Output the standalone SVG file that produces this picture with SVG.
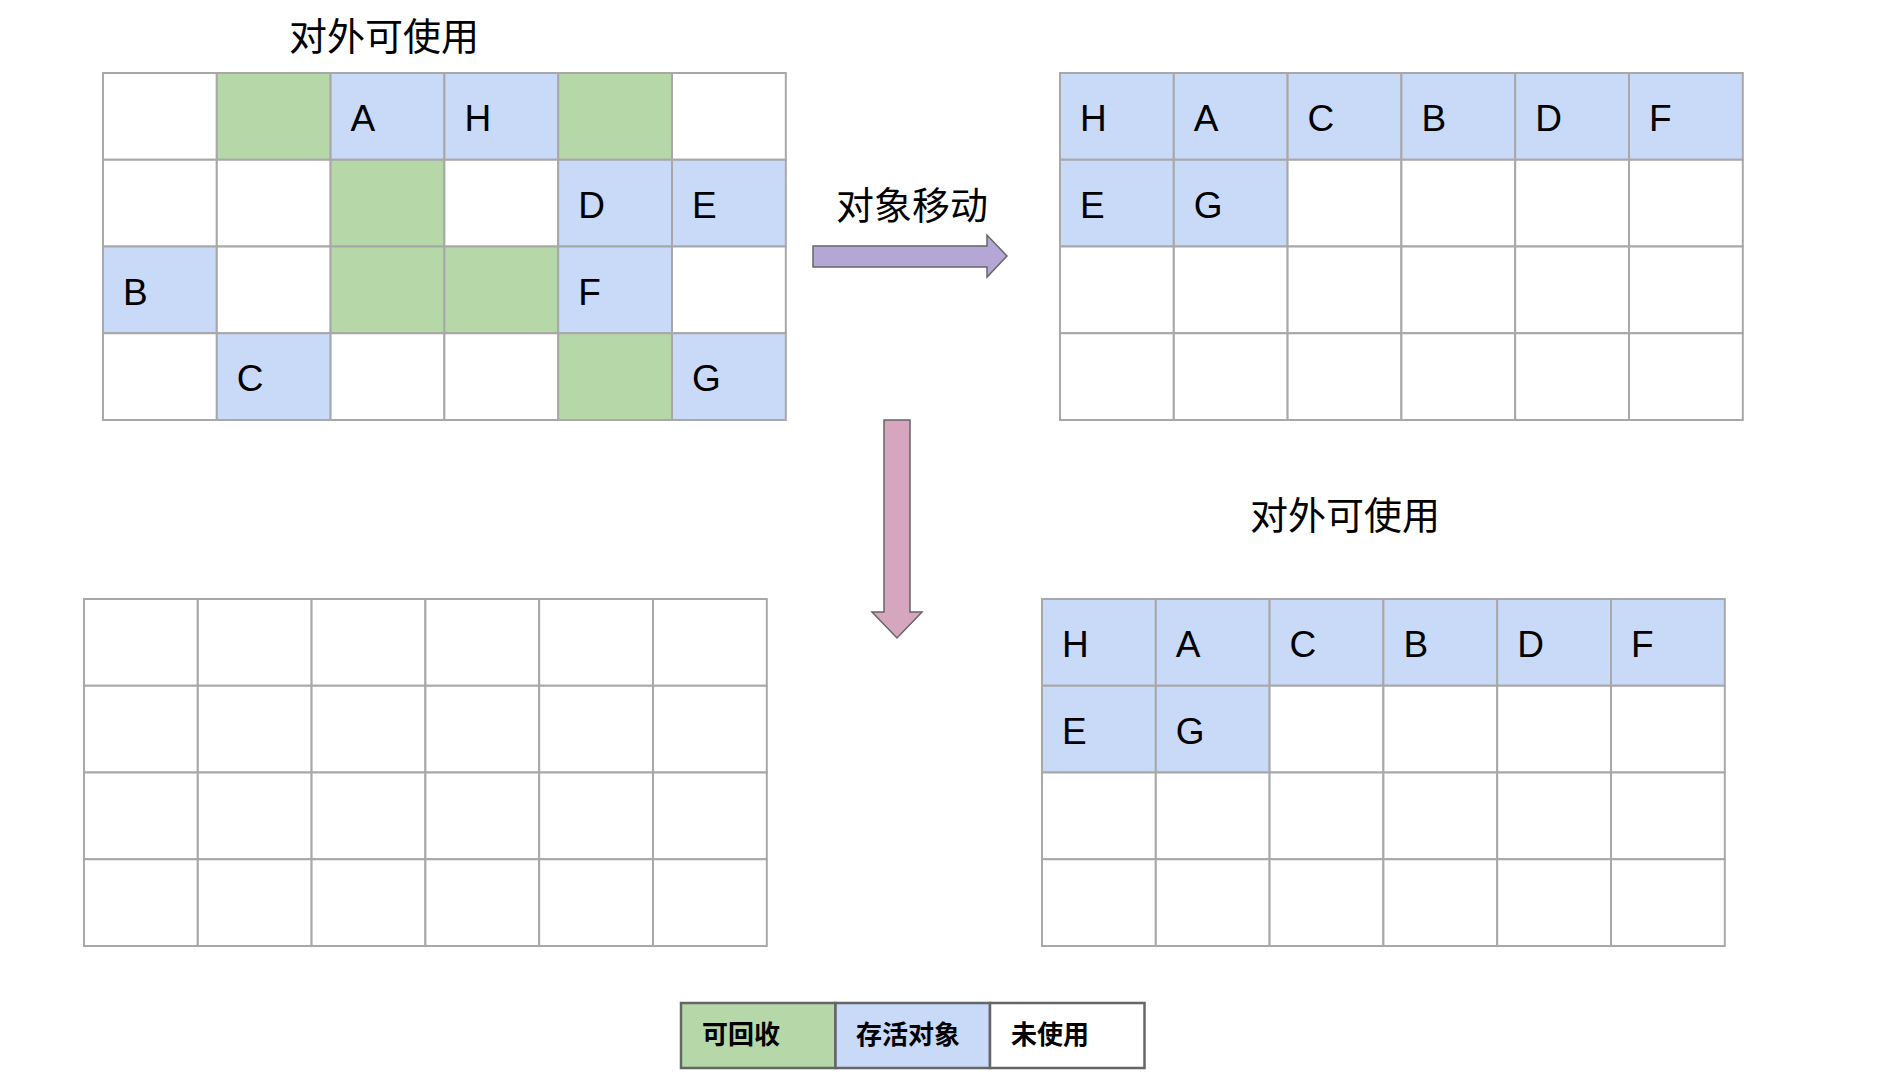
<svg xmlns="http://www.w3.org/2000/svg" width="1904" height="1080" viewBox="0 0 1904 1080">
<style>
.c{stroke:#a8a8a8;stroke-width:2}
.w{fill:#ffffff}
.g{fill:#b6d7a8}
.b{fill:#c9daf8}
.l{font-family:"Liberation Sans",Arial,sans-serif;font-size:37px;fill:#000}
.t{font-family:"Noto Sans CJK SC","Noto Sans",sans-serif;font-size:38px;fill:#000}
.lg{font-family:"Noto Sans CJK SC","Noto Sans",sans-serif;font-size:26px;font-weight:bold;fill:#000}
.lr{stroke:#666;stroke-width:2.5}
</style>
<rect width="1904" height="1080" fill="#fff"/>
<g id="title1"><text class="t" x="384" y="50" text-anchor="middle">对外可使用</text></g>
<g id="title2"><text class="t" x="1345" y="529" text-anchor="middle">对外可使用</text></g>
<g id="move-label"><text class="t" x="912" y="219" text-anchor="middle">对象移动</text></g>

<g id="grid1">
<rect class="c w" x="103" y="73" width="113.8" height="86.75"/>
<rect class="c g" x="216.8" y="73" width="113.8" height="86.75"/>
<rect class="c b" x="330.6" y="73" width="113.8" height="86.75"/>
<rect class="c b" x="444.4" y="73" width="113.8" height="86.75"/>
<rect class="c g" x="558.2" y="73" width="113.8" height="86.75"/>
<rect class="c w" x="672" y="73" width="113.8" height="86.75"/>
<rect class="c w" x="103" y="159.75" width="113.8" height="86.75"/>
<rect class="c w" x="216.8" y="159.75" width="113.8" height="86.75"/>
<rect class="c g" x="330.6" y="159.75" width="113.8" height="86.75"/>
<rect class="c w" x="444.4" y="159.75" width="113.8" height="86.75"/>
<rect class="c b" x="558.2" y="159.75" width="113.8" height="86.75"/>
<rect class="c b" x="672" y="159.75" width="113.8" height="86.75"/>
<rect class="c b" x="103" y="246.5" width="113.8" height="86.75"/>
<rect class="c w" x="216.8" y="246.5" width="113.8" height="86.75"/>
<rect class="c g" x="330.6" y="246.5" width="113.8" height="86.75"/>
<rect class="c g" x="444.4" y="246.5" width="113.8" height="86.75"/>
<rect class="c b" x="558.2" y="246.5" width="113.8" height="86.75"/>
<rect class="c w" x="672" y="246.5" width="113.8" height="86.75"/>
<rect class="c w" x="103" y="333.25" width="113.8" height="86.75"/>
<rect class="c b" x="216.8" y="333.25" width="113.8" height="86.75"/>
<rect class="c w" x="330.6" y="333.25" width="113.8" height="86.75"/>
<rect class="c w" x="444.4" y="333.25" width="113.8" height="86.75"/>
<rect class="c g" x="558.2" y="333.25" width="113.8" height="86.75"/>
<rect class="c b" x="672" y="333.25" width="113.8" height="86.75"/>
<text class="l" x="350.6" y="131">A</text>
<text class="l" x="464.4" y="131">H</text>
<text class="l" x="578.2" y="217.75">D</text>
<text class="l" x="692" y="217.75">E</text>
<text class="l" x="123" y="304.5">B</text>
<text class="l" x="578.2" y="304.5">F</text>
<text class="l" x="236.8" y="391.25">C</text>
<text class="l" x="692" y="391.25">G</text>
</g>

<g id="grid2">
<rect class="c b" x="1060" y="73" width="113.8" height="86.75"/>
<rect class="c b" x="1173.8" y="73" width="113.8" height="86.75"/>
<rect class="c b" x="1287.6" y="73" width="113.8" height="86.75"/>
<rect class="c b" x="1401.4" y="73" width="113.8" height="86.75"/>
<rect class="c b" x="1515.2" y="73" width="113.8" height="86.75"/>
<rect class="c b" x="1629" y="73" width="113.8" height="86.75"/>
<rect class="c b" x="1060" y="159.75" width="113.8" height="86.75"/>
<rect class="c b" x="1173.8" y="159.75" width="113.8" height="86.75"/>
<rect class="c w" x="1287.6" y="159.75" width="113.8" height="86.75"/>
<rect class="c w" x="1401.4" y="159.75" width="113.8" height="86.75"/>
<rect class="c w" x="1515.2" y="159.75" width="113.8" height="86.75"/>
<rect class="c w" x="1629" y="159.75" width="113.8" height="86.75"/>
<rect class="c w" x="1060" y="246.5" width="113.8" height="86.75"/>
<rect class="c w" x="1173.8" y="246.5" width="113.8" height="86.75"/>
<rect class="c w" x="1287.6" y="246.5" width="113.8" height="86.75"/>
<rect class="c w" x="1401.4" y="246.5" width="113.8" height="86.75"/>
<rect class="c w" x="1515.2" y="246.5" width="113.8" height="86.75"/>
<rect class="c w" x="1629" y="246.5" width="113.8" height="86.75"/>
<rect class="c w" x="1060" y="333.25" width="113.8" height="86.75"/>
<rect class="c w" x="1173.8" y="333.25" width="113.8" height="86.75"/>
<rect class="c w" x="1287.6" y="333.25" width="113.8" height="86.75"/>
<rect class="c w" x="1401.4" y="333.25" width="113.8" height="86.75"/>
<rect class="c w" x="1515.2" y="333.25" width="113.8" height="86.75"/>
<rect class="c w" x="1629" y="333.25" width="113.8" height="86.75"/>
<text class="l" x="1080" y="131">H</text>
<text class="l" x="1193.8" y="131">A</text>
<text class="l" x="1307.6" y="131">C</text>
<text class="l" x="1421.4" y="131">B</text>
<text class="l" x="1535.2" y="131">D</text>
<text class="l" x="1649" y="131">F</text>
<text class="l" x="1080" y="217.75">E</text>
<text class="l" x="1193.8" y="217.75">G</text>
</g>

<g id="grid3">
<rect class="c w" x="84" y="599" width="113.8" height="86.75"/>
<rect class="c w" x="197.8" y="599" width="113.8" height="86.75"/>
<rect class="c w" x="311.6" y="599" width="113.8" height="86.75"/>
<rect class="c w" x="425.4" y="599" width="113.8" height="86.75"/>
<rect class="c w" x="539.2" y="599" width="113.8" height="86.75"/>
<rect class="c w" x="653" y="599" width="113.8" height="86.75"/>
<rect class="c w" x="84" y="685.75" width="113.8" height="86.75"/>
<rect class="c w" x="197.8" y="685.75" width="113.8" height="86.75"/>
<rect class="c w" x="311.6" y="685.75" width="113.8" height="86.75"/>
<rect class="c w" x="425.4" y="685.75" width="113.8" height="86.75"/>
<rect class="c w" x="539.2" y="685.75" width="113.8" height="86.75"/>
<rect class="c w" x="653" y="685.75" width="113.8" height="86.75"/>
<rect class="c w" x="84" y="772.5" width="113.8" height="86.75"/>
<rect class="c w" x="197.8" y="772.5" width="113.8" height="86.75"/>
<rect class="c w" x="311.6" y="772.5" width="113.8" height="86.75"/>
<rect class="c w" x="425.4" y="772.5" width="113.8" height="86.75"/>
<rect class="c w" x="539.2" y="772.5" width="113.8" height="86.75"/>
<rect class="c w" x="653" y="772.5" width="113.8" height="86.75"/>
<rect class="c w" x="84" y="859.25" width="113.8" height="86.75"/>
<rect class="c w" x="197.8" y="859.25" width="113.8" height="86.75"/>
<rect class="c w" x="311.6" y="859.25" width="113.8" height="86.75"/>
<rect class="c w" x="425.4" y="859.25" width="113.8" height="86.75"/>
<rect class="c w" x="539.2" y="859.25" width="113.8" height="86.75"/>
<rect class="c w" x="653" y="859.25" width="113.8" height="86.75"/>
</g>

<g id="grid4">
<rect class="c b" x="1042" y="599" width="113.8" height="86.75"/>
<rect class="c b" x="1155.8" y="599" width="113.8" height="86.75"/>
<rect class="c b" x="1269.6" y="599" width="113.8" height="86.75"/>
<rect class="c b" x="1383.4" y="599" width="113.8" height="86.75"/>
<rect class="c b" x="1497.2" y="599" width="113.8" height="86.75"/>
<rect class="c b" x="1611" y="599" width="113.8" height="86.75"/>
<rect class="c b" x="1042" y="685.75" width="113.8" height="86.75"/>
<rect class="c b" x="1155.8" y="685.75" width="113.8" height="86.75"/>
<rect class="c w" x="1269.6" y="685.75" width="113.8" height="86.75"/>
<rect class="c w" x="1383.4" y="685.75" width="113.8" height="86.75"/>
<rect class="c w" x="1497.2" y="685.75" width="113.8" height="86.75"/>
<rect class="c w" x="1611" y="685.75" width="113.8" height="86.75"/>
<rect class="c w" x="1042" y="772.5" width="113.8" height="86.75"/>
<rect class="c w" x="1155.8" y="772.5" width="113.8" height="86.75"/>
<rect class="c w" x="1269.6" y="772.5" width="113.8" height="86.75"/>
<rect class="c w" x="1383.4" y="772.5" width="113.8" height="86.75"/>
<rect class="c w" x="1497.2" y="772.5" width="113.8" height="86.75"/>
<rect class="c w" x="1611" y="772.5" width="113.8" height="86.75"/>
<rect class="c w" x="1042" y="859.25" width="113.8" height="86.75"/>
<rect class="c w" x="1155.8" y="859.25" width="113.8" height="86.75"/>
<rect class="c w" x="1269.6" y="859.25" width="113.8" height="86.75"/>
<rect class="c w" x="1383.4" y="859.25" width="113.8" height="86.75"/>
<rect class="c w" x="1497.2" y="859.25" width="113.8" height="86.75"/>
<rect class="c w" x="1611" y="859.25" width="113.8" height="86.75"/>
<text class="l" x="1062" y="657">H</text>
<text class="l" x="1175.8" y="657">A</text>
<text class="l" x="1289.6" y="657">C</text>
<text class="l" x="1403.4" y="657">B</text>
<text class="l" x="1517.2" y="657">D</text>
<text class="l" x="1631" y="657">F</text>
<text class="l" x="1062" y="743.75">E</text>
<text class="l" x="1175.8" y="743.75">G</text>
</g>

<g id="connectors">
<path d="M813,246 L987,246 L987,235 L1007,256 L987,277 L987,267 L813,267 Z" fill="#b4a7d6" stroke="#666" stroke-width="1.5"/>
<path d="M884,420 L910,420 L910,612 L922,612 L897,638 L872,612 L884,612 Z" fill="#d5a6bd" stroke="#666" stroke-width="1.5"/>
</g>

<g id="legend">
<rect class="lr" x="681" y="1003" width="154.5" height="65" fill="#b6d7a8"/>
<rect class="lr" x="835.5" y="1003" width="154.5" height="65" fill="#c9daf8"/>
<rect class="lr" x="990" y="1003" width="154.5" height="65" fill="#ffffff"/>
<text class="lg" x="702" y="1044">可回收</text>
<text class="lg" x="856" y="1044">存活对象</text>
<text class="lg" x="1011" y="1044">未使用</text>
</g>
</svg>
